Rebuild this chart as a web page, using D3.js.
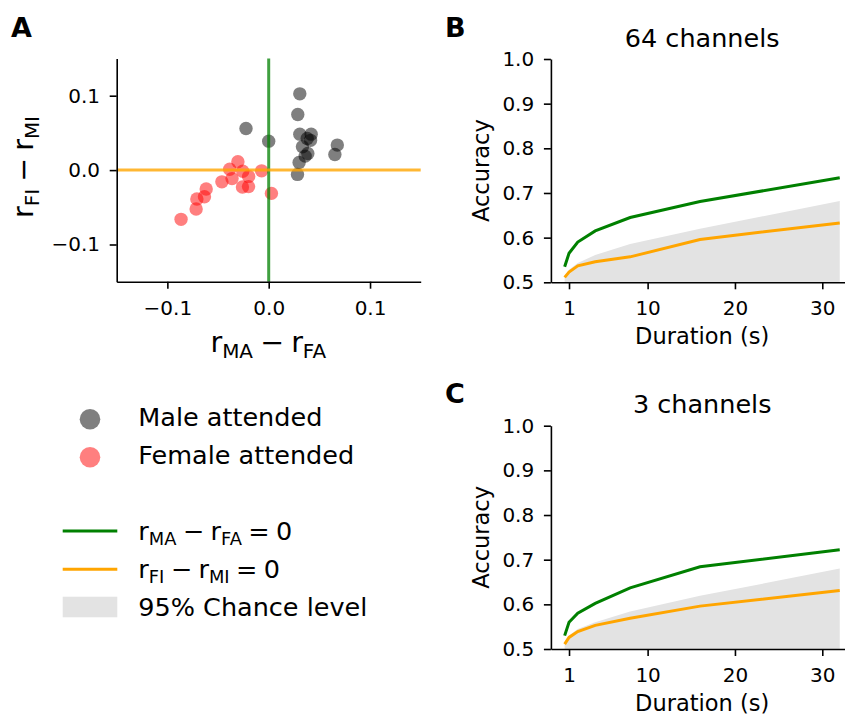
<!DOCTYPE html>
<html>
<head>
<meta charset="utf-8">
<script src="https://cdn.jsdelivr.net/npm/d3@7"></script>
<style>
  html, body { margin: 0; padding: 0; background: #fff; }
  svg { display: block; font-family: "DejaVu Sans", sans-serif; }
</style>
</head>
<body>
<svg id="fig" width="845" height="718"></svg>
<script>
// ---- Panel A: correlation differences per subject ----
const maleX = [0.0307, 0.0287, -0.0224, 0.0, 0.0307, 0.0419, 0.038, 0.0413, 0.0333, 0.0386, 0.036, 0.030, 0.0284, 0.0677, 0.0653];
const maleY = [0.1025, 0.0747, 0.0559, 0.0389, 0.0483, 0.0483, 0.0425, 0.040, 0.0313, 0.0224, 0.0188, 0.0103, -0.0058, 0.0336, 0.021];
const femaleX = [-0.0865, -0.0716, -0.0709, -0.0634, -0.0617, -0.0462, -0.0362, -0.0304, -0.0385, -0.0256, -0.0198, -0.0259, -0.0199, -0.0070, 0.0027];
const femaleY = [-0.0662, -0.0523, -0.0389, -0.0358, -0.0255, -0.0158, -0.0114, 0.0112, 0.0012, -0.0015, -0.0085, -0.0228, -0.0222, -0.0010, -0.0313];
const scatterTicks = [-0.1, 0, 0.1];

// ---- Panels B and C: decoding accuracy vs. window duration ----
const durations = [0.5, 1, 2, 4, 8, 16, 32];
const durationTicks = [1, 10, 20, 30];
const accuracyTicks = [0.5, 0.6, 0.7, 0.8, 0.9, 1.0];
const acc64Green = [0.535, 0.565, 0.590, 0.615, 0.645, 0.681, 0.734];
const acc64Orange = [0.511, 0.523, 0.537, 0.546, 0.557, 0.596, 0.633];
const acc64Chance = [0.511, 0.528, 0.543, 0.561, 0.586, 0.620, 0.682];
const acc3Green = [0.530, 0.560, 0.580, 0.602, 0.637, 0.684, 0.722];
const acc3Orange = [0.511, 0.526, 0.539, 0.553, 0.569, 0.596, 0.631];
const acc3Chance = [0.511, 0.530, 0.545, 0.560, 0.584, 0.619, 0.680];

const GREEN = "#008000", ORANGE = "#FFA500", CHANCE = "#e3e3e3";
const svg = d3.select("#fig");

// text with subscripts: parts = [[text, isSub], ...]
function mathText(g, parts, size) {
  const t = g.append("text").attr("font-size", size).attr("fill", "#000");
  let shifted = false;
  parts.forEach(([s, sub]) => {
    const ts = t.append("tspan").text(s);
    if (sub && !shifted) { ts.attr("font-size", size * 0.7).attr("dy", size * 0.22); shifted = true; }
    else if (!sub && shifted) { ts.attr("dy", -size * 0.22); shifted = false; }
  });
  return t;
}

function styleAxis(g, fs) {
  g.selectAll(".domain").attr("stroke", "#000").attr("stroke-width", 1.6);
  g.selectAll(".tick line").attr("stroke", "#000").attr("stroke-width", 1.6);
  g.selectAll(".tick text").attr("font-size", fs).attr("font-family", "DejaVu Sans").attr("fill", "#000");
}

const fmtTick = v => (v < 0 ? "\u2212" : "") + Math.abs(v).toFixed(1);
const SP = "\u2005"; // narrow space around math operators

// ===== Panel A =====
{
  const x = d3.scaleLinear().domain([-0.15, 0.15]).range([116.7, 420.7]);
  const y = d3.scaleLinear().domain([-0.15, 0.15]).range([281.7, 58.5]);
  const g = svg.append("g");

  g.selectAll("circle.male").data(maleX.map((v, i) => [v, maleY[i]])).join("circle")
    .attr("cx", d => x(d[0])).attr("cy", d => y(d[1])).attr("r", 6.7)
    .attr("fill", "#000").attr("fill-opacity", 0.5);
  g.selectAll("circle.female").data(femaleX.map((v, i) => [v, femaleY[i]])).join("circle")
    .attr("cx", d => x(d[0])).attr("cy", d => y(d[1])).attr("r", 6.7)
    .attr("fill", "#ff0000").attr("fill-opacity", 0.5);

  // reference lines at zero
  g.append("line").attr("x1", x(0)).attr("x2", x(0)).attr("y1", y(0.15)).attr("y2", y(-0.15))
    .attr("stroke", GREEN).attr("stroke-opacity", 0.75).attr("stroke-width", 3);
  g.append("line").attr("x1", x(-0.15)).attr("x2", x(0.15)).attr("y1", y(0)).attr("y2", y(0))
    .attr("stroke", ORANGE).attr("stroke-opacity", 0.8).attr("stroke-width", 3);

  const ax = g.append("g").attr("transform", `translate(0,${y(-0.15)})`)
    .call(d3.axisBottom(x).tickValues(scatterTicks).tickFormat(fmtTick).tickSize(7).tickSizeOuter(0).tickPadding(12));
  styleAxis(ax, 20);
  const ay = g.append("g").attr("transform", `translate(${x(-0.15)},0)`)
    .call(d3.axisLeft(y).tickValues(scatterTicks).tickFormat(fmtTick).tickSize(7).tickSizeOuter(0).tickPadding(9.7));
  styleAxis(ay, 20);

  mathText(g, [["r", false], ["MA", true], [SP + "\u2212" + SP + "r", false], ["FA", true]], 28.5)
    .attr("x", 268.3).attr("y", 352).attr("text-anchor", "middle");
  mathText(g, [["r", false], ["FI", true], [SP + "\u2212" + SP + "r", false], ["MI", true]], 28.5)
    .attr("text-anchor", "middle").attr("transform", "translate(33,167) rotate(-90)");

  svg.append("text").text("A").attr("x", 11).attr("y", 37.3)
    .attr("font-size", 27).attr("font-weight", "bold");
}

// ===== Panels B and C =====
function accuracyPanel(top, bottom, title, letter, green, orange, chance) {
  const x = d3.scaleLinear().domain([-1.075, 33.575]).range([550.9, 853.5]);
  const y = d3.scaleLinear().domain([0.5, 1.0]).range([bottom, top]);
  const g = svg.append("g");

  g.append("path").datum(durations.map((d, i) => [d, chance[i]]))
    .attr("d", d3.area().x(d => x(d[0])).y0(y(0.5)).y1(d => y(d[1])))
    .attr("fill", CHANCE);

  const line = d3.line().x(d => x(d[0])).y(d => y(d[1]));
  g.append("path").datum(durations.map((d, i) => [d, orange[i]]))
    .attr("d", line).attr("fill", "none").attr("stroke", ORANGE).attr("stroke-width", 3);
  g.append("path").datum(durations.map((d, i) => [d, green[i]]))
    .attr("d", line).attr("fill", "none").attr("stroke", GREEN).attr("stroke-width", 3);

  const ax = g.append("g").attr("transform", `translate(0,${bottom})`)
    .call(d3.axisBottom(x).tickValues(durationTicks).tickFormat(d3.format("d")).tickSize(7).tickSizeOuter(0).tickPadding(12));
  styleAxis(ax, 20);
  const ay = g.append("g").attr("transform", `translate(550.9,0)`)
    .call(d3.axisLeft(y).tickValues(accuracyTicks).tickFormat(d3.format(".1f")).tickSize(7).tickSizeOuter(0).tickPadding(9.7));
  styleAxis(ay, 20);

  g.append("text").text(title).attr("x", 702.2).attr("y", top - 12.3)
    .attr("text-anchor", "middle").attr("font-size", 25.5);
  g.append("text").text("Duration (s)").attr("x", 702.2).attr("y", bottom + 62)
    .attr("text-anchor", "middle").attr("font-size", 22.5);
  g.append("text").text("Accuracy").attr("text-anchor", "middle").attr("font-size", 22.5)
    .attr("transform", `translate(489,${(top + bottom) / 2}) rotate(-90)`);
  svg.append("text").text(letter).attr("x", 445).attr("y", top - 22.5)
    .attr("font-size", 27).attr("font-weight", "bold");
}
accuracyPanel(59, 282.3, "64 channels", "B", acc64Green, acc64Orange, acc64Chance);
accuracyPanel(425.7, 649, "3 channels", "C", acc3Green, acc3Orange, acc3Chance);

// ===== Legend =====
{
  const g = svg.append("g");
  const fs = 25.5;
  g.append("circle").attr("cx", 90).attr("cy", 419.3).attr("r", 10.3).attr("fill", "#000").attr("fill-opacity", 0.5);
  g.append("text").text("Male attended").attr("x", 138.3).attr("y", 425.7).attr("font-size", fs);
  g.append("circle").attr("cx", 90).attr("cy", 457.3).attr("r", 10.3).attr("fill", "#ff0000").attr("fill-opacity", 0.5);
  g.append("text").text("Female attended").attr("x", 138.3).attr("y", 463.5).attr("font-size", fs);

  g.append("line").attr("x1", 62.7).attr("x2", 117.3).attr("y1", 531).attr("y2", 531)
    .attr("stroke", GREEN).attr("stroke-width", 3);
  mathText(g, [["r", false], ["MA", true], [SP + "\u2212" + SP + "r", false], ["FA", true], [SP + "=" + SP + "0", false]], fs)
    .attr("x", 138.3).attr("y", 539.5);
  g.append("line").attr("x1", 62.7).attr("x2", 117.3).attr("y1", 569.3).attr("y2", 569.3)
    .attr("stroke", ORANGE).attr("stroke-width", 3);
  mathText(g, [["r", false], ["FI", true], [SP + "\u2212" + SP + "r", false], ["MI", true], [SP + "=" + SP + "0", false]], fs)
    .attr("x", 138.3).attr("y", 577.5);
  g.append("rect").attr("x", 62.7).attr("y", 596.7).attr("width", 54.6).attr("height", 20.6).attr("fill", CHANCE);
  g.append("text").text("95% Chance level").attr("x", 138.3).attr("y", 615.5).attr("font-size", fs);
}
</script>
</body>
</html>
